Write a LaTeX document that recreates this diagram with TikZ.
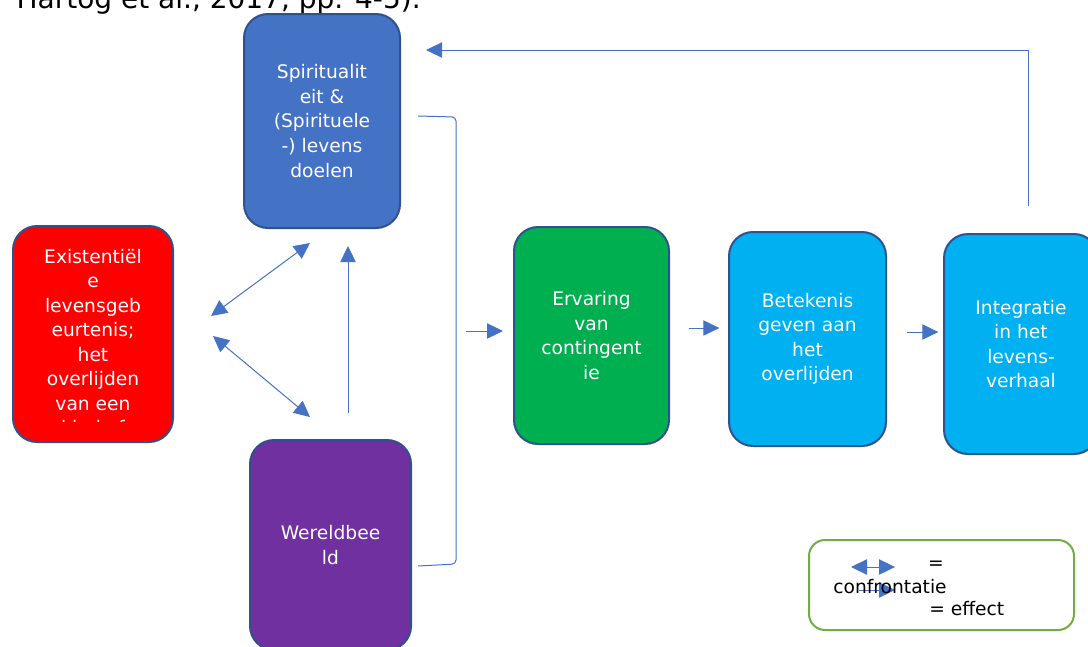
\documentclass[tikz,border=0pt]{standalone}
\usepackage{fontspec}
\setmainfont{DejaVu Sans}
\usetikzlibrary{positioning, arrows.meta, calc}
\definecolor{accblue}{HTML}{4472C4}
\definecolor{boxline}{HTML}{2F528F}
\definecolor{boxred}{HTML}{FF0000}
\definecolor{boxgreen}{HTML}{00B050}
\definecolor{boxcyan}{HTML}{00B0F0}
\definecolor{boxpurple}{HTML}{7030A0}
\definecolor{legline}{HTML}{70AD47}
\tikzset{box/.style={draw=boxline, line width=1.5pt, rounded corners=18pt, text=white, align=center,
                     font=\fontsize{14}{18.4}\selectfont, inner sep=0pt},
         conf/.style={{Triangle[length=12pt,width=11.5pt]}-{Triangle[length=12pt,width=11.5pt]}, accblue, line width=0.75pt},
         eff/.style={-{Triangle[length=12pt,width=11.5pt]}, accblue, line width=0.75pt},
         legtext/.style={font=\fontsize{14}{18}\selectfont, inner sep=0pt},
        }

\begin{document}
\begin{tikzpicture}[x=0.75pt,y=-0.75pt]
        \clip (0,0) rectangle (1088,646);

        \node[anchor=base east, font=\fontsize{21}{25}\selectfont, inner sep=0pt](cite)at(421,8){Hartog et al., 2017, pp. 4-5).};

        \node[box, fill=accblue, minimum width=117pt, minimum height=160.5pt](sp)at(322,121)
            {Spiritualit\\eit \&\\(Spirituele\\-) levens\\doelen};
        \node[box, fill=boxred, minimum width=120pt, minimum height=162pt](ex)at(93,334){};
        \begin{scope}
            \clip (17,230) rectangle (169,421);
            \node[box, draw=none, anchor=north](extxt)at(93,248)
                {Existentiël\\e\\levensgeb\\eurtenis;\\het\\overlijden\\van een\\kind of};
        \end{scope}
        \node[box, fill=boxpurple, minimum width=120.75pt, minimum height=157.5pt](wb)at(330.5,545){Wereldbee\\ld};
        \node[box, fill=boxgreen, minimum width=116.25pt, minimum height=162.75pt](erv)at(591.5,335.5)
            {Ervaring\\van\\contingent\\ie};
        \node[box, fill=boxcyan, minimum width=117.75pt, minimum height=160.5pt](bet)at(807.5,339)
            {Betekenis\\geven aan\\het\\overlijden};
        \node[box, fill=boxcyan, minimum width=115.5pt, minimum height=165pt](integ)at(1021,344)
            {Integratie\\in het\\levens-\\verhaal};

        \draw[conf]($(ex.east)+(37,-18)$)--($(sp.south)+(-12,14)$);
        \draw[conf]($(ex.east)+(39,2)$)--($(wb.north)+(-20.5,-22)$);
        \draw[eff]($(wb.north)+(17.5,-26)$)--($(sp.south)+(26,17)$);

        % bracket round sp and wb
        \coordinate(brtop)at(418,116);
        \coordinate(brmid)at(456,331);
        \coordinate(brbot)at(418,566);
        \draw[accblue, line width=0.75pt, rounded corners=3pt](brtop)--(456,117)--(456,564)--(brbot);

        \draw[eff, shorten <=7.5pt, shorten >=7.5pt](brmid)--(erv.west |- brmid);
        \draw[eff, shorten <=14pt, shorten >=6.5pt](erv.east |- 0,328)--(bet.west |- 0,328);
        \draw[eff, shorten <=15pt, shorten >=3.5pt](bet.east |- 0,332)--(integ.west |- 0,332);
        \draw[eff]($(integ.north)+(7,-27)$)|-($(sp.east)+(25,-71)$);

        % legend
        \node[draw=legline, line width=1.5pt, rounded corners=12pt, minimum width=198.75pt, minimum height=67.5pt](leg)at(941.5,585){};
        \draw[conf]($(leg.west)+(43,-18)$)--($(leg.west)+(87,-18)$);
        \draw[eff]($(leg.west)+(51,5)$)--($(leg.west)+(87,5)$);
        \node[legtext](legeq)at($(leg.west)+(128,-20)$){=};
        \node[legtext](legconf)at($(leg.west)+(82,2)$){confrontatie};
        \node[legtext, anchor=west](legeff)at($(leg.west)+(121,24)$){= effect};
    \end{tikzpicture}
\end{document}
